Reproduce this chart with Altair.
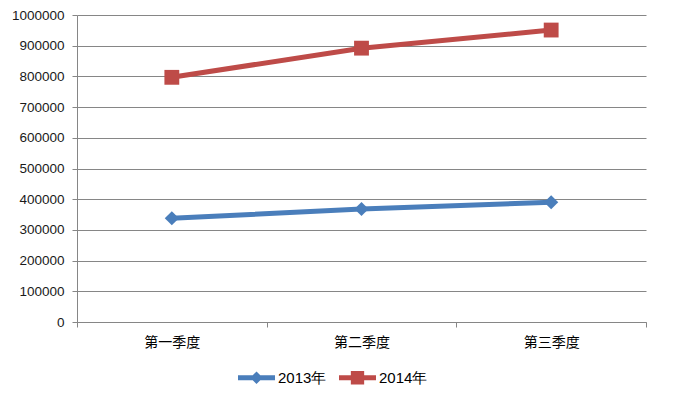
import altair as alt
import pandas as pd

quarters = ["第一季度", "第二季度", "第三季度"]
series_names = ["2013年", "2014年"]
values_2013 = [338000, 368000, 390000]
values_2014 = [797000, 892000, 951000]
y_ticks = [0, 100000, 200000, 300000, 400000, 500000, 600000, 700000, 800000, 900000, 1000000]

rows = []
for q, v in zip(quarters, values_2013):
    rows.append({"quarter": q, "series": series_names[0], "value": v})
for q, v in zip(quarters, values_2014):
    rows.append({"quarter": q, "series": series_names[1], "value": v})
df = pd.DataFrame(rows)

colors = ["#4A7EBB", "#BE4B48"]

diamond_path = "M-1,-0.13 L1,-0.13 L1,0.13 L-1,0.13 Z M0,-0.34 L0.34,0 L0,0.34 L-0.34,0 Z"
square_path = "M-1,-0.13 L1,-0.13 L1,0.13 L-1,0.13 Z M-0.36,-0.36 L0.36,-0.36 L0.36,0.36 L-0.36,0.36 Z"

legend = alt.Legend(
    title=None,
    orient="none",
    direction="horizontal",
    legendX=161,
    legendY=344,
    symbolType=alt.ExprRef(expr=f"datum.value == '2013年' ? '{diamond_path}' : '{square_path}'"),
    symbolSize=1369,
    symbolStrokeWidth=0,
    symbolOpacity=1,
    labelFont="Liberation Sans",
    labelFontSize=15,
    labelColor="#000000",
    labelOffset=3,
    columnPadding=12,
    padding=0,
)

x_enc = alt.X(
    "quarter:N",
    sort=quarters,
    title=None,
    scale=alt.Scale(paddingInner=0, paddingOuter=0),
    axis=alt.Axis(
        labelAngle=0,
        labelFont="Noto Sans CJK SC",
        labelFontSize=14,
        labelColor="#000000",
        labelPadding=8,
        tickBand="extent",
        tickSize=5,
        tickColor="#868686",
        domainColor="#868686",
        grid=False,
    ),
)
y_enc = alt.Y(
    "value:Q",
    title=None,
    scale=alt.Scale(domain=[0, 1000000], nice=False),
    axis=alt.Axis(
        values=y_ticks,
        format="d",
        labelFont="Liberation Sans",
        labelFontSize=13.5,
        labelColor="#1a1a1a",
        labelPadding=8,
        tickSize=5,
        tickColor="#868686",
        domainColor="#868686",
        gridColor="#868686",
        gridWidth=1,
    ),
)
color_scale = alt.Scale(domain=series_names, range=colors)
color_enc = alt.Color("series:N", sort=series_names, scale=color_scale, legend=legend)

base = alt.Chart(df)

legend_layer = base.mark_point(filled=True, opacity=0).encode(
    x=x_enc, y=y_enc, color=color_enc
)

lines = base.mark_line(strokeWidth=5, strokeCap="round", strokeJoin="round").encode(
    x=x_enc, y=y_enc, color=color_enc, detail="series:N"
)

points_2013 = (
    base.transform_filter(alt.datum.series == series_names[0])
    .mark_point(filled=True, opacity=1, shape="diamond", size=200)
    .encode(x=x_enc, y=y_enc, color=color_enc)
)
points_2014 = (
    base.transform_filter(alt.datum.series == series_names[1])
    .mark_point(filled=True, opacity=1, shape="square", size=220)
    .encode(x=x_enc, y=y_enc, color=color_enc)
)

chart = (
    alt.layer(legend_layer, lines, points_2013, points_2014)
    .properties(
        width=569,
        height=307,
        autosize=alt.AutoSizeParams(type="none"),
        padding={"left": 77, "top": 15, "right": 31, "bottom": 72},
        background="#ffffff",
    )
    .configure_view(stroke=None)
)

chart.save("out.html", embed_options={"renderer": "svg", "actions": False})
